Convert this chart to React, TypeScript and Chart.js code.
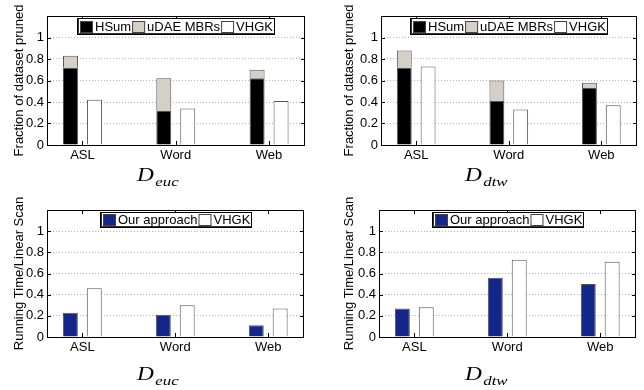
import React, { useEffect, useRef } from 'react';
import { Chart, registerables } from 'chart.js';

Chart.register(...registerables);

// ---------- data ----------
const categories = ['ASL', 'Word', 'Web'];
// fraction of dataset pruned, D_euc
const hsumEuc = [0.72, 0.32, 0.62];
const udaeEuc = [0.11, 0.30, 0.08];
const vhgkPrunedEuc = [0.42, 0.34, 0.41];
// fraction of dataset pruned, D_dtw
const hsumDtw = [0.72, 0.41, 0.53];
const udaeDtw = [0.16, 0.19, 0.05];
const vhgkPrunedDtw = [0.73, 0.33, 0.37];
// running time / linear scan
const oursTimeEuc = [0.23, 0.21, 0.11];
const vhgkTimeEuc = [0.46, 0.30, 0.27];
const oursTimeDtw = [0.27, 0.56, 0.50];
const vhgkTimeDtw = [0.28, 0.73, 0.71];
const yTickValues = [0, 0.2, 0.4, 0.6, 0.8, 1, 1.2];
const X_MIN = 0.62;
const X_MAX = 3.385;

const FONT = '"Liberation Sans", Arial, Helvetica, sans-serif';
const BLACK = '#000000';
const GRAY = '#d4d0c8';
const WHITE = '#ffffff';
const BLUE = '#14268a';
const EDGE = '#555555';

const pts = (arr: number[]) => arr.map((v, i) => ({ x: i + 1, y: v }));

type LegendItem = { label: string; fill: string };

const framePlugin = (items: LegendItem[], legendH: number) => ({
  id: 'frameLegend',
  afterDatasetsDraw(chart: any) {
    const { ctx, chartArea: a, scales } = chart;
    const L = Math.round(a.left);
    const R = Math.round(a.right);
    const T = Math.round(a.top);
    const B = Math.round(a.bottom);
    ctx.save();
    ctx.strokeStyle = '#000';
    ctx.lineWidth = 1;
    ctx.beginPath();
    ctx.rect(L + 0.5, T + 0.5, R - L - 1, B - T);
    yTickValues.forEach((v) => {
      const y = Math.round(scales.y.getPixelForValue(v)) + 0.5;
      ctx.moveTo(L, y);
      ctx.lineTo(L + 4, y);
      ctx.moveTo(R, y);
      ctx.lineTo(R - 4, y);
    });
    categories.forEach((_, i) => {
      const x = Math.round(scales.x.getPixelForValue(i + 1)) + 0.5;
      ctx.moveTo(x, B);
      ctx.lineTo(x, B - 4);
      ctx.moveTo(x, T);
      ctx.lineTo(x, T + 4);
    });
    ctx.stroke();
    ctx.restore();
  },
  afterDraw(chart: any) {
    const { ctx, chartArea: a } = chart;
    ctx.save();
    ctx.font = `13px ${FONT}`;
    const sw = 13;
    const sh = 12;
    const gapSw = 2;
    const gapText = 1;
    const padL = 2;
    const padR = 3;
    const widths = items.map((it) => ctx.measureText(it.label).width);
    let total = padL + padR;
    widths.forEach((w) => (total += sw + gapSw + w + gapText));
    total = Math.round(total - gapText);
    const bx = Math.round((a.left + a.right) / 2 - total / 2);
    const by = Math.round(a.top + 2);
    ctx.fillStyle = '#fff';
    ctx.fillRect(bx, by, total, legendH);
    ctx.strokeStyle = '#000';
    ctx.lineWidth = 1;
    ctx.strokeRect(bx + 0.5, by + 0.5, total - 1, legendH - 1);
    ctx.strokeStyle = '#333';
    ctx.beginPath();
    ctx.moveTo(bx + 1.5, by + 1);
    ctx.lineTo(bx + 1.5, by + legendH - 1.5);
    ctx.lineTo(bx + total - 1, by + legendH - 1.5);
    ctx.stroke();
    let x = bx + padL + 1;
    const sy = Math.round(by + (legendH - sh) / 2);
    items.forEach((it, i) => {
      ctx.fillStyle = it.fill;
      ctx.fillRect(x, sy, sw, sh);
      ctx.strokeStyle = '#444';
      ctx.strokeRect(x + 0.5, sy + 0.5, sw - 1, sh - 1);
      x += sw + gapSw;
      ctx.fillStyle = '#000';
      ctx.textBaseline = 'middle';
      ctx.textAlign = 'left';
      ctx.fillText(it.label, x, by + legendH / 2 + 0.5);
      x += widths[i] + gapText;
    });
    ctx.restore();
  },
});

type Panel = {
  key: string;
  left: number;
  top: number;
  w: number;
  h: number;
  plotLeft: number;
  plotRight: number;
  plotTop: number;
  plotBottom: number;
  titleCenter: number;
  yTitle: string;
  legendH: number;
  legend: LegendItem[];
  datasets: any[];
};

const bar = (label: string, data: number[], fill: string, stack: string) => ({
  label,
  data: pts(data),
  backgroundColor: fill,
  borderColor: EDGE,
  borderWidth: 1,
  stack,
});

const prunedLegend: LegendItem[] = [
  { label: 'HSum', fill: BLACK },
  { label: 'uDAE MBRs', fill: GRAY },
  { label: 'VHGK', fill: WHITE },
];
const timeLegend: LegendItem[] = [
  { label: 'Our approach', fill: BLUE },
  { label: 'VHGK', fill: WHITE },
];

const panels: Panel[] = [
  {
    key: 'tl', left: 0, top: 0, w: 322, h: 195,
    plotLeft: 47, plotRight: 305, plotTop: 16, plotBottom: 145, titleCenter: 19,
    yTitle: 'Fraction of dataset pruned', legendH: 17, legend: prunedLegend,
    datasets: [
      bar('HSum', hsumEuc, BLACK, 'a'),
      bar('uDAE MBRs', udaeEuc, GRAY, 'a'),
      bar('VHGK', vhgkPrunedEuc, WHITE, 'b'),
    ],
  },
  {
    key: 'tr', left: 322, top: 0, w: 322, h: 195,
    plotLeft: 59, plotRight: 315, plotTop: 16, plotBottom: 145, titleCenter: 27.5,
    yTitle: 'Fraction of dataset pruned', legendH: 17, legend: prunedLegend,
    datasets: [
      bar('HSum', hsumDtw, BLACK, 'a'),
      bar('uDAE MBRs', udaeDtw, GRAY, 'a'),
      bar('VHGK', vhgkPrunedDtw, WHITE, 'b'),
    ],
  },
  {
    key: 'bl', left: 0, top: 195, w: 322, h: 195,
    plotLeft: 47, plotRight: 304, plotTop: 15, plotBottom: 142, titleCenter: 19,
    yTitle: 'Running Time/Linear Scan', legendH: 16, legend: timeLegend,
    datasets: [
      bar('Our approach', oursTimeEuc, BLUE, 'a'),
      bar('VHGK', vhgkTimeEuc, WHITE, 'b'),
    ],
  },
  {
    key: 'br', left: 322, top: 195, w: 322, h: 195,
    plotLeft: 57, plotRight: 314, plotTop: 15, plotBottom: 142, titleCenter: 27.5,
    yTitle: 'Running Time/Linear Scan', legendH: 16, legend: timeLegend,
    datasets: [
      bar('Our approach', oursTimeDtw, BLUE, 'a'),
      bar('VHGK', vhgkTimeDtw, WHITE, 'b'),
    ],
  },
];

function PanelChart({ p }: { p: Panel }) {
  const ref = useRef<HTMLCanvasElement>(null);
  useEffect(() => {
    const font = { family: FONT, size: 13 };
    const chart = new Chart(ref.current as HTMLCanvasElement, {
      type: 'bar',
      data: { datasets: p.datasets },
      options: {
        animation: false,
        responsive: false,
        devicePixelRatio: 1,
        layout: { padding: { left: 0, top: p.plotTop, right: p.w - p.plotRight, bottom: 0 } },
        datasets: { bar: { categoryPercentage: 0.514, barPercentage: 0.625 } } as any,
        plugins: { legend: { display: false }, tooltip: { enabled: false } },
        scales: {
          x: {
            type: 'linear',
            min: X_MIN,
            max: X_MAX,
            bounds: 'data',
            offset: false,
            stacked: true,
            grid: { display: false, drawTicks: false, offset: false },
            border: { display: false },
            ticks: {
              padding: 3,
              font,
              color: '#000',
              autoSkip: false,
              maxRotation: 0,
              callback: (v: any) => categories[Math.round(Number(v)) - 1] ?? '',
            },
            afterDataLimits: (s: any) => {
              s.min = X_MIN;
              s.max = X_MAX;
            },
            afterBuildTicks: (s: any) => {
              s.ticks = categories.map((_, i) => ({ value: i + 1 }));
              s.min = X_MIN;
              s.max = X_MAX;
            },
            afterFit: (s: any) => {
              s.height = p.h - p.plotBottom;
            },
          },
          y: {
            type: 'linear',
            min: 0,
            max: 1.2,
            stacked: true,
            grid: { color: '#b5b5b5', drawTicks: false, lineWidth: 1 },
            border: { display: false, dash: [1, 2] },
            ticks: {
              padding: 3,
              font,
              color: '#000',
              callback: (v: any) => {
                const n = Number(v);
                if (n > 1.05) return '';
                if (Math.abs(n) < 1e-9) return '0';
                if (Math.abs(n - 1) < 1e-9) return '1';
                return n.toFixed(1);
              },
            },
            afterBuildTicks: (s: any) => {
              s.ticks = yTickValues.map((v) => ({ value: v }));
            },
            title: {
              display: true,
              text: p.yTitle,
              color: '#000',
              font,
              padding: { top: p.titleCenter - 7.8, bottom: 0 },
            },
            afterFit: (s: any) => {
              s.width = p.plotLeft;
            },
          },
        },
      } as any,
      plugins: [framePlugin(p.legend, p.legendH)],
    });
    return () => chart.destroy();
  }, []);
  return (
    <canvas
      ref={ref}
      width={p.w}
      height={p.h}
      style={{ position: 'absolute', left: p.left, top: p.top, width: p.w, height: p.h }}
    />
  );
}

function Sub({ left, top, sub }: { left: number; top: number; sub: string }) {
  return (
    <div
      style={{
        position: 'absolute',
        left,
        top,
        fontFamily: '"Liberation Serif", "DejaVu Serif", serif',
        fontStyle: 'italic',
        fontSize: 18,
        lineHeight: '19px',
        whiteSpace: 'nowrap',
        transform: 'scaleX(1.3)',
        transformOrigin: 'left top',
        color: '#000',
      }}
    >
      <span>D</span>
      <span style={{ fontSize: 13, position: 'relative', top: 5, marginLeft: 1 }}>{sub}</span>
    </div>
  );
}

export default function App() {
  return (
    <div style={{ position: 'absolute', left: 0, top: 0, width: 644, height: 390, background: '#fff' }}>
      {panels.map((p) => (
        <PanelChart key={p.key} p={p} />
      ))}
      <Sub left={137} top={166} sub="euc" />
      <Sub left={465} top={166} sub="dtw" />
      <Sub left={137} top={365} sub="euc" />
      <Sub left={465} top={365} sub="dtw" />
    </div>
  );
}
